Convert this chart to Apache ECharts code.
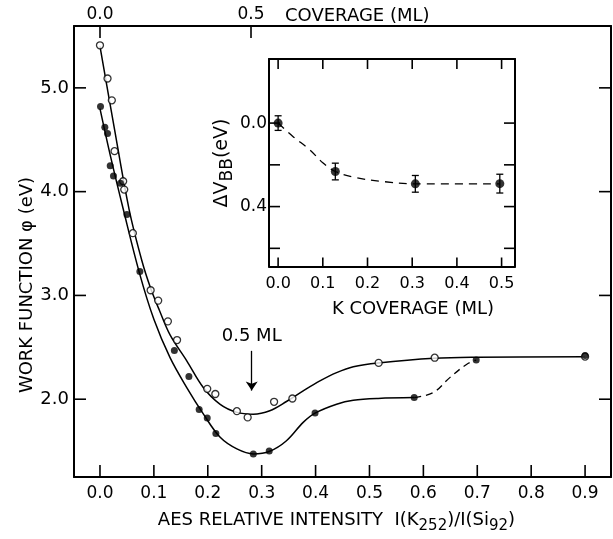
<!DOCTYPE html>
<html><head><meta charset="utf-8">
<script src="https://cdn.jsdelivr.net/npm/echarts@6/dist/echarts.min.js"></script>
<style>html,body{margin:0;padding:0;background:#fff}#c{width:613px;height:539px}</style>
</head><body><div id="c"></div>
<script>
// ---- data ----
const xTicks = [0, 0.1, 0.2, 0.3, 0.4, 0.5, 0.6, 0.7, 0.8, 0.9];
const yTicks = [2, 3, 4, 5];
const topTicks = [0, 0.5];
const openPts = [[0.000,5.41],[0.014,5.09],[0.022,4.88],[0.027,4.39],[0.043,4.10],[0.045,4.02],[0.061,3.60],[0.094,3.05],[0.108,2.95],[0.126,2.75],[0.143,2.57],[0.199,2.10],[0.214,2.05],[0.254,1.885],[0.274,1.825],[0.323,1.975],[0.357,2.007],[0.517,2.35],[0.621,2.40],[0.900,2.41]];
const filledPts = [[0.001,4.82],[0.009,4.62],[0.014,4.56],[0.019,4.25],[0.025,4.15],[0.038,4.08],[0.050,3.78],[0.074,3.23],[0.138,2.47],[0.165,2.22],[0.184,1.90],[0.199,1.82],[0.215,1.67],[0.2845,1.473],[0.314,1.50],[0.399,1.866],[0.583,2.016],[0.698,2.377],[0.900,2.42]];
const upperCurve = [[0,5.40],[0.027,4.60],[0.054,3.83],[0.078,3.33],[0.094,3.07],[0.11,2.86],[0.130,2.62],[0.161,2.37],[0.192,2.11],[0.223,1.95],[0.254,1.873],[0.2845,1.856],[0.315,1.889],[0.346,1.978],[0.377,2.08],[0.408,2.176],[0.439,2.256],[0.470,2.313],[0.516,2.35],[0.62,2.395],[0.70,2.405],[0.90,2.41]];
const lowerCurve = [[0,4.80],[0.02,4.33],[0.043,3.835],[0.073,3.22],[0.10,2.77],[0.13,2.40],[0.161,2.112],[0.192,1.856],[0.223,1.633],[0.254,1.521],[0.2845,1.473],[0.315,1.499],[0.346,1.60],[0.377,1.777],[0.399,1.866],[0.439,1.952],[0.470,1.99],[0.516,2.008],[0.583,2.016]];
const lowerDash = [[0.583,2.016],[0.618,2.064],[0.649,2.208],[0.680,2.335],[0.698,2.377]];
const arrowX = 0.2815, arrowTop = 2.466, arrowBottom = 2.083;

const insetCov = [0.0, 0.128, 0.307, 0.496];
const insetDV = [0.0, 0.232, 0.291, 0.290];
const insetErr = [0.035, 0.04, 0.04, 0.045];
const insetCurve = [[0,0],[0.033,0.064],[0.071,0.128],[0.10,0.19],[0.128,0.232],[0.168,0.259],[0.235,0.28],[0.3076,0.291],[0.496,0.291]];
const insetXTicks = [0, 0.1, 0.2, 0.3, 0.4, 0.5];
const insetYTicks = [0, 0.2, 0.4, 0.6];
const insetYLabels = [0, 0.4];

// ---- chart ----
const FONT = 'DejaVu Sans';
const BLK = '#000';
const txt = (size) => ({color: BLK, fontSize: size, fontFamily: FONT});
const noSplit = {show: false};

function frameAxis(o) {
  return Object.assign({type: 'value', splitLine: noSplit,
    axisLine: {show: true, onZero: false, lineStyle: {color: BLK, width: 2}},
    axisTick: {show: false}, axisLabel: {show: false}}, o);
}

const M = {min: -0.0482, max: 0.9481};      // main AES axis range
const T = {min: -0.0861, max: 1.692};       // top coverage axis range
const MY = {min: 1.2505, max: 5.596};       // work function range
const IX = {min: -0.0204, max: 0.530};      // inset coverage range
const IY = {min: -0.307, max: 0.687, inverse: true}; // inset dV range

// inward tick marks drawn at axis values through the axes' own scales
function tickSeries(xi, yi, pts, dx, dy) {
  return {type: 'custom', xAxisIndex: xi, yAxisIndex: yi, coordinateSystem: 'cartesian2d',
    data: pts, encode: {x: 0, y: 1}, silent: true, z: 5, clip: false,
    renderItem: function (params, api) {
      const p = api.coord([api.value(0), api.value(1)]);
      return {type: 'line', shape: {x1: p[0], y1: p[1], x2: p[0] + dx, y2: p[1] + dy},
        style: {stroke: BLK, lineWidth: 1.6}};
    }};
}

const chart = echarts.init(document.getElementById('c'), null, {renderer: 'canvas'});
chart.setOption({
  animation: false,
  backgroundColor: '#fff',
  grid: [
    {left: 74, top: 26, width: 537, height: 454},
    {left: 269, top: 59, width: 246, height: 207.5}
  ],
  xAxis: [
    frameAxis(Object.assign({gridIndex: 0, position: 'bottom',
      axisLabel: Object.assign({show: true, customValues: xTicks, formatter: v => v.toFixed(1), margin: 8}, txt(17)),
      name: 'AES RELATIVE INTENSITY  I(K{s|252})/I(Si{s|92})',
      nameLocation: 'middle', nameGap: 30,
      nameTextStyle: Object.assign({padding: [0, 12, 0, 0], rich: {s: {fontSize: 15, fontFamily: FONT, color: BLK, padding: [12, 0, 0, 0]}}}, txt(18))
    }, M)),
    frameAxis(Object.assign({gridIndex: 0, position: 'top',
      axisLabel: Object.assign({show: true, customValues: topTicks, formatter: v => v.toFixed(1), margin: 3}, txt(17))
    }, T)),
    frameAxis(Object.assign({gridIndex: 1, position: 'bottom',
      axisLabel: Object.assign({show: true, customValues: insetXTicks, formatter: v => v.toFixed(1), margin: 9}, txt(16)),
      name: 'K COVERAGE (ML)', nameLocation: 'middle', nameGap: 34,
      nameTextStyle: Object.assign({padding: [0, 0, 0, 42]}, txt(18))
    }, IX)),
    frameAxis(Object.assign({gridIndex: 1, position: 'top'}, IX))
  ],
  yAxis: [
    frameAxis(Object.assign({gridIndex: 0, position: 'left',
      axisLabel: Object.assign({show: true, customValues: yTicks, formatter: v => v.toFixed(1), margin: 5}, txt(18))
    }, MY)),
    frameAxis(Object.assign({gridIndex: 0, position: 'right'}, MY)),
    frameAxis(Object.assign({gridIndex: 1, position: 'left',
      axisLabel: Object.assign({show: true, customValues: insetYLabels, formatter: v => v.toFixed(1), margin: 2}, txt(17))
    }, IY)),
    frameAxis(Object.assign({gridIndex: 1, position: 'right'}, IY))
  ],
  graphic: [
    {type: 'text', left: 285, top: 7, style: {text: 'COVERAGE (ML)', fill: BLK, fontSize: 18, fontFamily: FONT}},
    {type: 'text', x: 27, y: 285, rotation: Math.PI / 2,
      style: {text: 'WORK FUNCTION \u03C6 (eV)', fill: BLK, fontSize: 18, fontFamily: FONT, align: 'center', verticalAlign: 'middle'}},
    {type: 'text', x: 222, y: 163, rotation: Math.PI / 2,
      style: {text: '\u0394V{s|BB}(eV)', fill: BLK, fontSize: 19, fontFamily: FONT, align: 'center', verticalAlign: 'middle',
        rich: {s: {fontSize: 17, fontFamily: FONT, fill: BLK, padding: [12, 0, 0, 0]}}}}
  ],
  series: [
    {type: 'line', xAxisIndex: 0, yAxisIndex: 0, data: upperCurve, smooth: 0.35, symbol: 'none',
      lineStyle: {color: BLK, width: 1.5}, z: 2,
      markLine: {silent: true, symbol: ['none', 'arrow'], symbolSize: 9, precision: 4,
        lineStyle: {color: BLK, width: 1.3, type: 'solid'},
        label: Object.assign({show: true, position: 'start', formatter: '0.5 ML', distance: 6}, txt(18)),
        data: [[{coord: [arrowX, arrowTop]}, {coord: [arrowX, arrowBottom]}]]}
    },
    {type: 'line', xAxisIndex: 0, yAxisIndex: 0, data: lowerCurve, smooth: 0.35, symbol: 'none',
      lineStyle: {color: BLK, width: 1.5}, z: 2},
    {type: 'line', xAxisIndex: 0, yAxisIndex: 0, data: lowerDash, smooth: 0.4, symbol: 'none',
      lineStyle: {color: BLK, width: 1.3, type: [7, 5]}, z: 2},
    {type: 'scatter', xAxisIndex: 0, yAxisIndex: 0, data: openPts, symbol: 'circle', symbolSize: 7,
      itemStyle: {color: '#fff', borderColor: BLK, borderWidth: 1.3}, z: 3},
    {type: 'scatter', xAxisIndex: 0, yAxisIndex: 0, data: filledPts, symbol: 'circle', symbolSize: 7,
      itemStyle: {color: BLK}, z: 4},
    {type: 'line', xAxisIndex: 2, yAxisIndex: 2, data: insetCurve, smooth: 0.35, symbol: 'none',
      lineStyle: {color: BLK, width: 1.3, type: [8, 6]}, z: 2},
    {type: 'custom', xAxisIndex: 2, yAxisIndex: 2, coordinateSystem: 'cartesian2d',
      data: insetCov.map((c, i) => [c, insetDV[i], insetErr[i]]),
      encode: {x: 0, y: 1},
      renderItem: function (params, api) {
        const x = api.value(0), y = api.value(1), e = api.value(2);
        const a = api.coord([x, y - e]), b = api.coord([x, y + e]);
        const cap = 3.5, st = {stroke: BLK, lineWidth: 1.3};
        return {type: 'group', children: [
          {type: 'line', shape: {x1: a[0], y1: a[1], x2: b[0], y2: b[1]}, style: st},
          {type: 'line', shape: {x1: a[0] - cap, y1: a[1], x2: a[0] + cap, y2: a[1]}, style: st},
          {type: 'line', shape: {x1: b[0] - cap, y1: b[1], x2: b[0] + cap, y2: b[1]}, style: st}
        ]};
      }, z: 3},
    {type: 'scatter', xAxisIndex: 2, yAxisIndex: 2, data: insetCov.map((c, i) => [c, insetDV[i]]),
      symbol: 'circle', symbolSize: 9, itemStyle: {color: BLK}, z: 4},
    // frame tick marks
    tickSeries(0, 0, xTicks.map(v => [v, MY.min]), 0, -12),
    tickSeries(1, 0, topTicks.map(v => [v, MY.max]), 0, 12),
    tickSeries(0, 0, yTicks.map(v => [M.min, v]), 12, 0),
    tickSeries(0, 0, yTicks.map(v => [M.max, v]), -12, 0),
    tickSeries(2, 2, insetXTicks.map(v => [v, IY.max]), 0, -9),
    tickSeries(2, 2, insetXTicks.map(v => [v, IY.min]), 0, 10),
    tickSeries(2, 2, insetYTicks.map(v => [IX.min, v]), 11, 0),
    tickSeries(2, 2, insetYTicks.map(v => [IX.max, v]), -11, 0)
  ]
});
</script>
</body></html>
